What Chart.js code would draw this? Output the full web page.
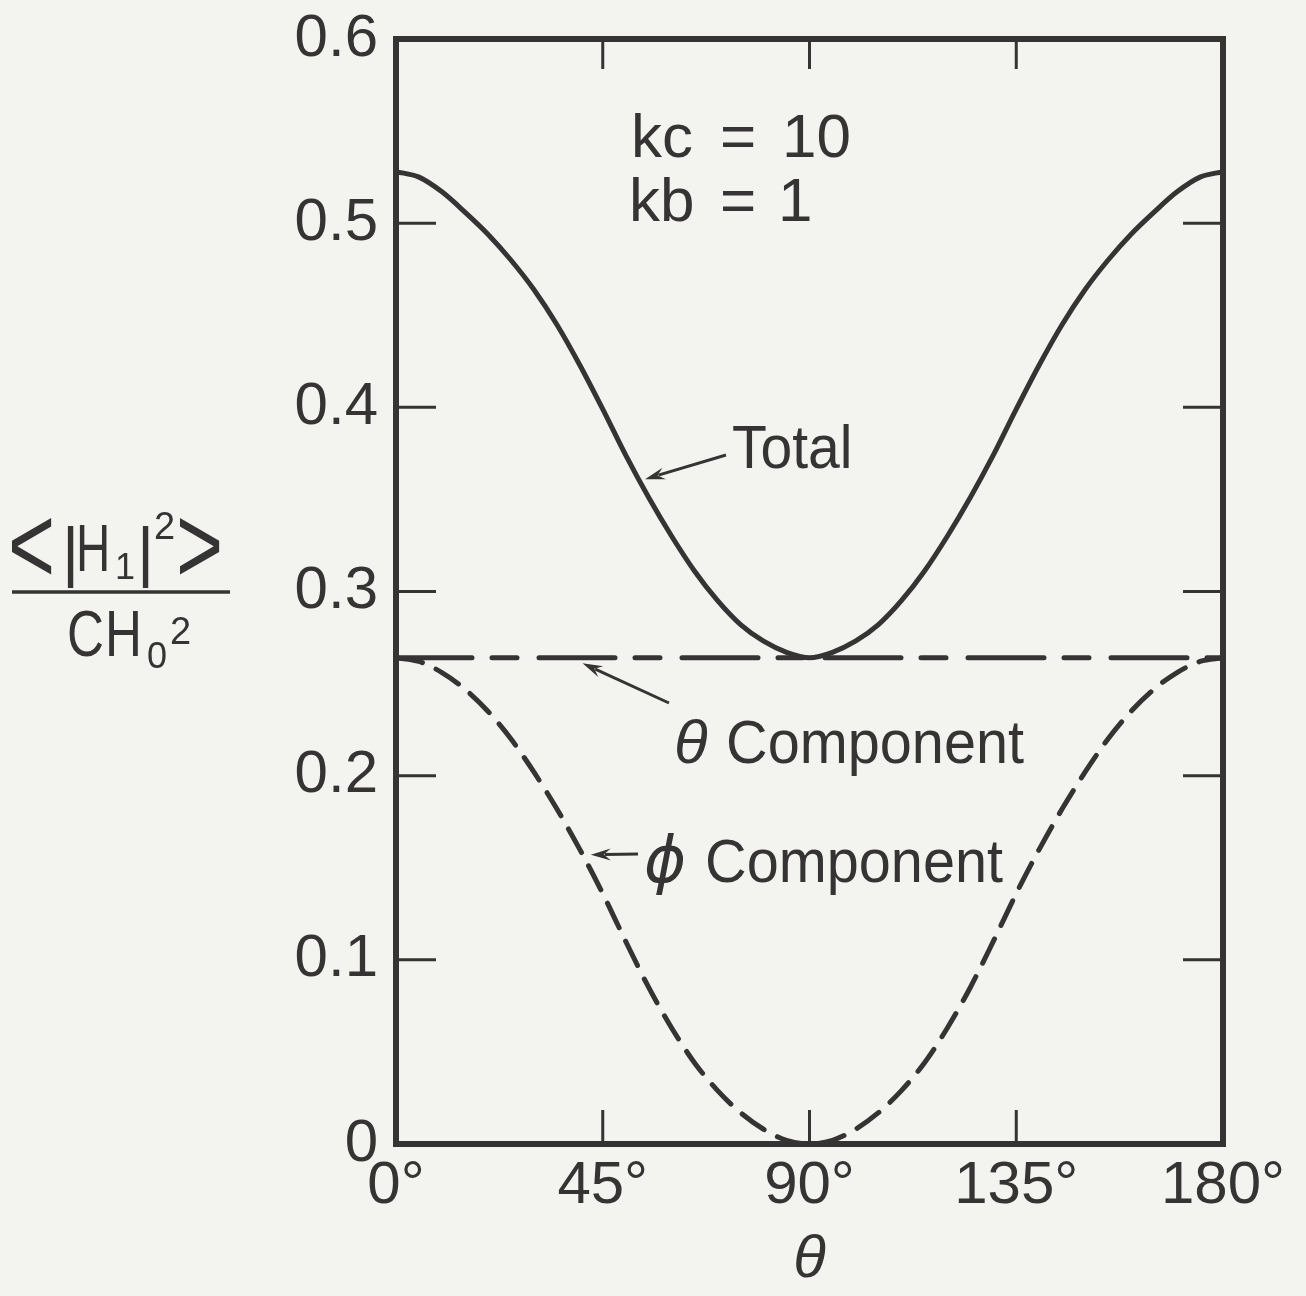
<!DOCTYPE html>
<html>
<head>
<meta charset="utf-8">
<title>Mean square field components vs theta</title>
<script src="https://cdn.jsdelivr.net/npm/chart.js@4.4.1/dist/chart.umd.min.js"></script>
<style>
  html, body { margin: 0; padding: 0; background: #f3f4ef; }
  #wrap { width: 1306px; height: 1296px; position: relative; }
</style>
</head>
<body>
<div id="wrap"><canvas id="chart" width="1306" height="1296"></canvas></div>
<script>
// ---------- Data ----------
const thetaDeg = [0, 5, 10, 15, 20, 25, 30, 35, 40, 45, 50, 55, 60, 65, 70, 75, 80, 85, 90,
  95, 100, 105, 110, 115, 120, 125, 130, 135, 140, 145, 150, 155, 160, 165, 170, 175, 180];
const totalVals = [0.528, 0.525, 0.517, 0.506, 0.494, 0.480, 0.464, 0.445, 0.423, 0.399, 0.374, 0.351, 0.330, 0.311, 0.295, 0.282, 0.273, 0.267, 0.264,
  0.267, 0.273, 0.282, 0.295, 0.311, 0.330, 0.351, 0.374, 0.399, 0.423, 0.445, 0.464, 0.480, 0.494, 0.506, 0.517, 0.525, 0.528];
const phiVals = [0.264, 0.262, 0.256, 0.247, 0.235, 0.220, 0.202, 0.182, 0.160, 0.136, 0.110, 0.085, 0.063, 0.044, 0.029, 0.017, 0.008, 0.002, 0.000,
  0.002, 0.008, 0.017, 0.029, 0.044, 0.063, 0.085, 0.110, 0.136, 0.160, 0.182, 0.202, 0.220, 0.235, 0.247, 0.256, 0.262, 0.264];
const thetaCompX = [0, 180];
const thetaCompVals = [0.264, 0.264];

const xTickVals = [0, 45, 90, 135, 180];
const xTickLabels = ['0°', '45°', '90°', '135°', '180°'];
const yTickVals = [0, 0.1, 0.2, 0.3, 0.4, 0.5, 0.6];
const yTickLabels = ['0', '0.1', '0.2', '0.3', '0.4', '0.5', '0.6'];

// ---------- Style ----------
const INK = '#363334';
const BG = '#f3f4ef';
const FONT = '"Liberation Sans", Arial, sans-serif';

function pts(xs, ys) {
  return xs.map((x, i) => ({ x: x, y: ys[i] }));
}

// text helper: x = left edge, y = baseline, optional horizontal squeeze
function txt(ctx, s, x, y, size, opts) {
  opts = opts || {};
  ctx.save();
  ctx.fillStyle = INK;
  ctx.font = (opts.italic ? 'italic ' : '') + size + 'px ' + (opts.family || FONT);
  ctx.textAlign = 'left';
  ctx.textBaseline = 'alphabetic';
  ctx.translate(x, y);
  ctx.scale(opts.sx || 1, 1);
  ctx.fillText(s, 0, 0);
  ctx.restore();
}

function arrow(ctx, x1, y1, x2, y2) {
  // line from (x1,y1) to tip (x2,y2)
  const a = Math.atan2(y2 - y1, x2 - x1);
  const c = Math.cos(a), s = Math.sin(a);
  const len = 20, hw = 6;
  ctx.save();
  ctx.strokeStyle = INK;
  ctx.fillStyle = INK;
  ctx.lineWidth = 3;
  ctx.beginPath();
  ctx.moveTo(x1, y1);
  ctx.lineTo(x2 - c * len * 0.7, y2 - s * len * 0.7);
  ctx.stroke();
  ctx.beginPath();
  ctx.moveTo(x2, y2);
  ctx.lineTo(x2 - c * len + s * hw, y2 - s * len - c * hw);
  ctx.lineTo(x2 - c * len * 0.65, y2 - s * len * 0.65);
  ctx.lineTo(x2 - c * len - s * hw, y2 - s * len + c * hw);
  ctx.closePath();
  ctx.fill();
  ctx.restore();
}

// ---------- Plugins ----------
const bgPlugin = {
  id: 'bg',
  beforeDraw(chart) {
    const ctx = chart.ctx;
    ctx.save();
    ctx.fillStyle = BG;
    ctx.fillRect(0, 0, chart.width, chart.height);
    ctx.restore();
  }
};

const framePlugin = {
  id: 'frame',
  afterDatasetsDraw(chart) {
    const ctx = chart.ctx;
    const a = chart.chartArea;
    const xs = chart.scales.x, ys = chart.scales.y;
    ctx.save();
    ctx.strokeStyle = INK;
    ctx.lineCap = 'butt';
    // inward ticks on all four sides
    ctx.lineWidth = 3;
    ctx.beginPath();
    xTickVals.slice(1, -1).forEach((v) => {
      const px = xs.getPixelForValue(v);
      ctx.moveTo(px, a.bottom); ctx.lineTo(px, a.bottom - 34);
      ctx.moveTo(px, a.top); ctx.lineTo(px, a.top + 30);
    });
    yTickVals.slice(1, -1).forEach((v) => {
      const py = ys.getPixelForValue(v);
      ctx.moveTo(a.left, py); ctx.lineTo(a.left + 40, py);
      ctx.moveTo(a.right, py); ctx.lineTo(a.right - 40, py);
    });
    ctx.stroke();
    // frame
    ctx.lineWidth = 6;
    ctx.lineJoin = 'miter';
    ctx.strokeRect(a.left, a.top, a.right - a.left, a.bottom - a.top);
    ctx.restore();
  },
  afterDraw(chart) {
    const ctx = chart.ctx;
    const xs = chart.scales.x, ys = chart.scales.y;
    const X = (v) => xs.getPixelForValue(v);
    const Y = (v) => ys.getPixelForValue(v);

    // parameters
    txt(ctx, 'kc', 631, 157, 62);
    txt(ctx, '=', 720, 157, 62);
    txt(ctx, '10', 782, 157, 62);
    txt(ctx, 'kb', 629, 221, 62);
    txt(ctx, '=', 720, 221, 62);
    txt(ctx, '1', 778, 221, 62);

    // Total label
    txt(ctx, 'Total', 732, 468, 62, { sx: 0.92 });
    arrow(ctx, 726, 455, X(54.2), Y(0.361));

    // theta component label
    txt(ctx, 'θ', 674, 763, 62, { italic: true });
    txt(ctx, 'Component', 726, 763, 62, { sx: 0.93 });
    arrow(ctx, 669, 703, X(40.6), Y(0.261));

    // phi component label
    arrow(ctx, 638, 854, X(42.4), Y(0.157));
    txt(ctx, 'ϕ', 644, 882, 64, { italic: true, family: '"DejaVu Sans", sans-serif' });
    txt(ctx, 'Component', 705, 882, 62, { sx: 0.93 });

    // y axis title as a fraction
    txt(ctx, '<', 8, 583, 112, { sx: 0.72 });
    txt(ctx, '|', 62, 574, 66);
    txt(ctx, 'H', 76, 571, 66, { sx: 0.72 });
    txt(ctx, '1', 115, 579, 36);
    txt(ctx, '|', 137, 574, 66);
    txt(ctx, '2', 154, 539, 38);
    txt(ctx, '>', 176, 583, 112, { sx: 0.72 });
    ctx.save();
    ctx.strokeStyle = INK;
    ctx.lineWidth = 3.5;
    ctx.beginPath();
    ctx.moveTo(12, 592); ctx.lineTo(230, 592);
    ctx.stroke();
    ctx.restore();
    txt(ctx, 'C', 67, 656, 64, { sx: 0.8 });
    txt(ctx, 'H', 105, 656, 64, { sx: 0.8 });
    txt(ctx, '0', 147, 668, 36);
    txt(ctx, '2', 170, 644, 38);
  }
};

// ---------- Chart ----------
new Chart(document.getElementById('chart'), {
  type: 'line',
  data: {
    datasets: [
      {
        label: 'Total',
        data: pts(thetaDeg, totalVals),
        borderColor: INK,
        borderWidth: 5,
        pointRadius: 0,
        cubicInterpolationMode: 'monotone',
        fill: false
      },
      {
        label: 'θ Component',
        data: pts(thetaCompX, thetaCompVals),
        borderColor: INK,
        borderWidth: 5,
        borderDash: [76, 20, 25, 22],
        borderCapStyle: 'round',
        pointRadius: 0,
        fill: false
      },
      {
        label: 'ϕ Component',
        data: pts(thetaDeg, phiVals),
        borderColor: INK,
        borderWidth: 5,
        borderDash: [27, 15],
        borderCapStyle: 'round',
        pointRadius: 0,
        cubicInterpolationMode: 'monotone',
        fill: false
      }
    ]
  },
  options: {
    responsive: false,
    animation: false,
    devicePixelRatio: 1,
    layout: { padding: { left: 0, top: 39, right: 83, bottom: 0 } },
    plugins: {
      legend: { display: false },
      tooltip: { enabled: false }
    },
    scales: {
      x: {
        type: 'linear',
        min: 0,
        max: 180,
        grid: { display: false, drawTicks: false },
        border: { display: false },
        afterBuildTicks(scale) { scale.ticks = xTickVals.map((v) => ({ value: v })); },
        afterFit(scale) {
          scale.height = 152;
          scale.paddingLeft = 0;
          scale.paddingRight = 0;
        },
        ticks: {
          color: INK,
          padding: 6,
          maxRotation: 0,
          autoSkip: false,
          font: { family: FONT, size: 60 },
          callback: (v) => xTickLabels[xTickVals.indexOf(v)]
        },
        title: {
          display: true,
          text: 'θ',
          color: INK,
          padding: { top: 0, bottom: 0 },
          font: { family: FONT, size: 60, style: 'italic' }
        }
      },
      y: {
        type: 'linear',
        min: 0,
        max: 0.6,
        grid: { display: false, drawTicks: false },
        border: { display: false },
        afterBuildTicks(scale) { scale.ticks = yTickVals.map((v) => ({ value: v })); },
        afterFit(scale) {
          scale.width = 396;
          scale.paddingTop = 0;
          scale.paddingBottom = 0;
        },
        ticks: {
          color: INK,
          padding: 18,
          autoSkip: false,
          font: { family: FONT, size: 60 },
          callback: (v) => yTickLabels[yTickVals.indexOf(v)]
        }
      }
    }
  },
  plugins: [bgPlugin, framePlugin]
});
</script>
</body>
</html>
